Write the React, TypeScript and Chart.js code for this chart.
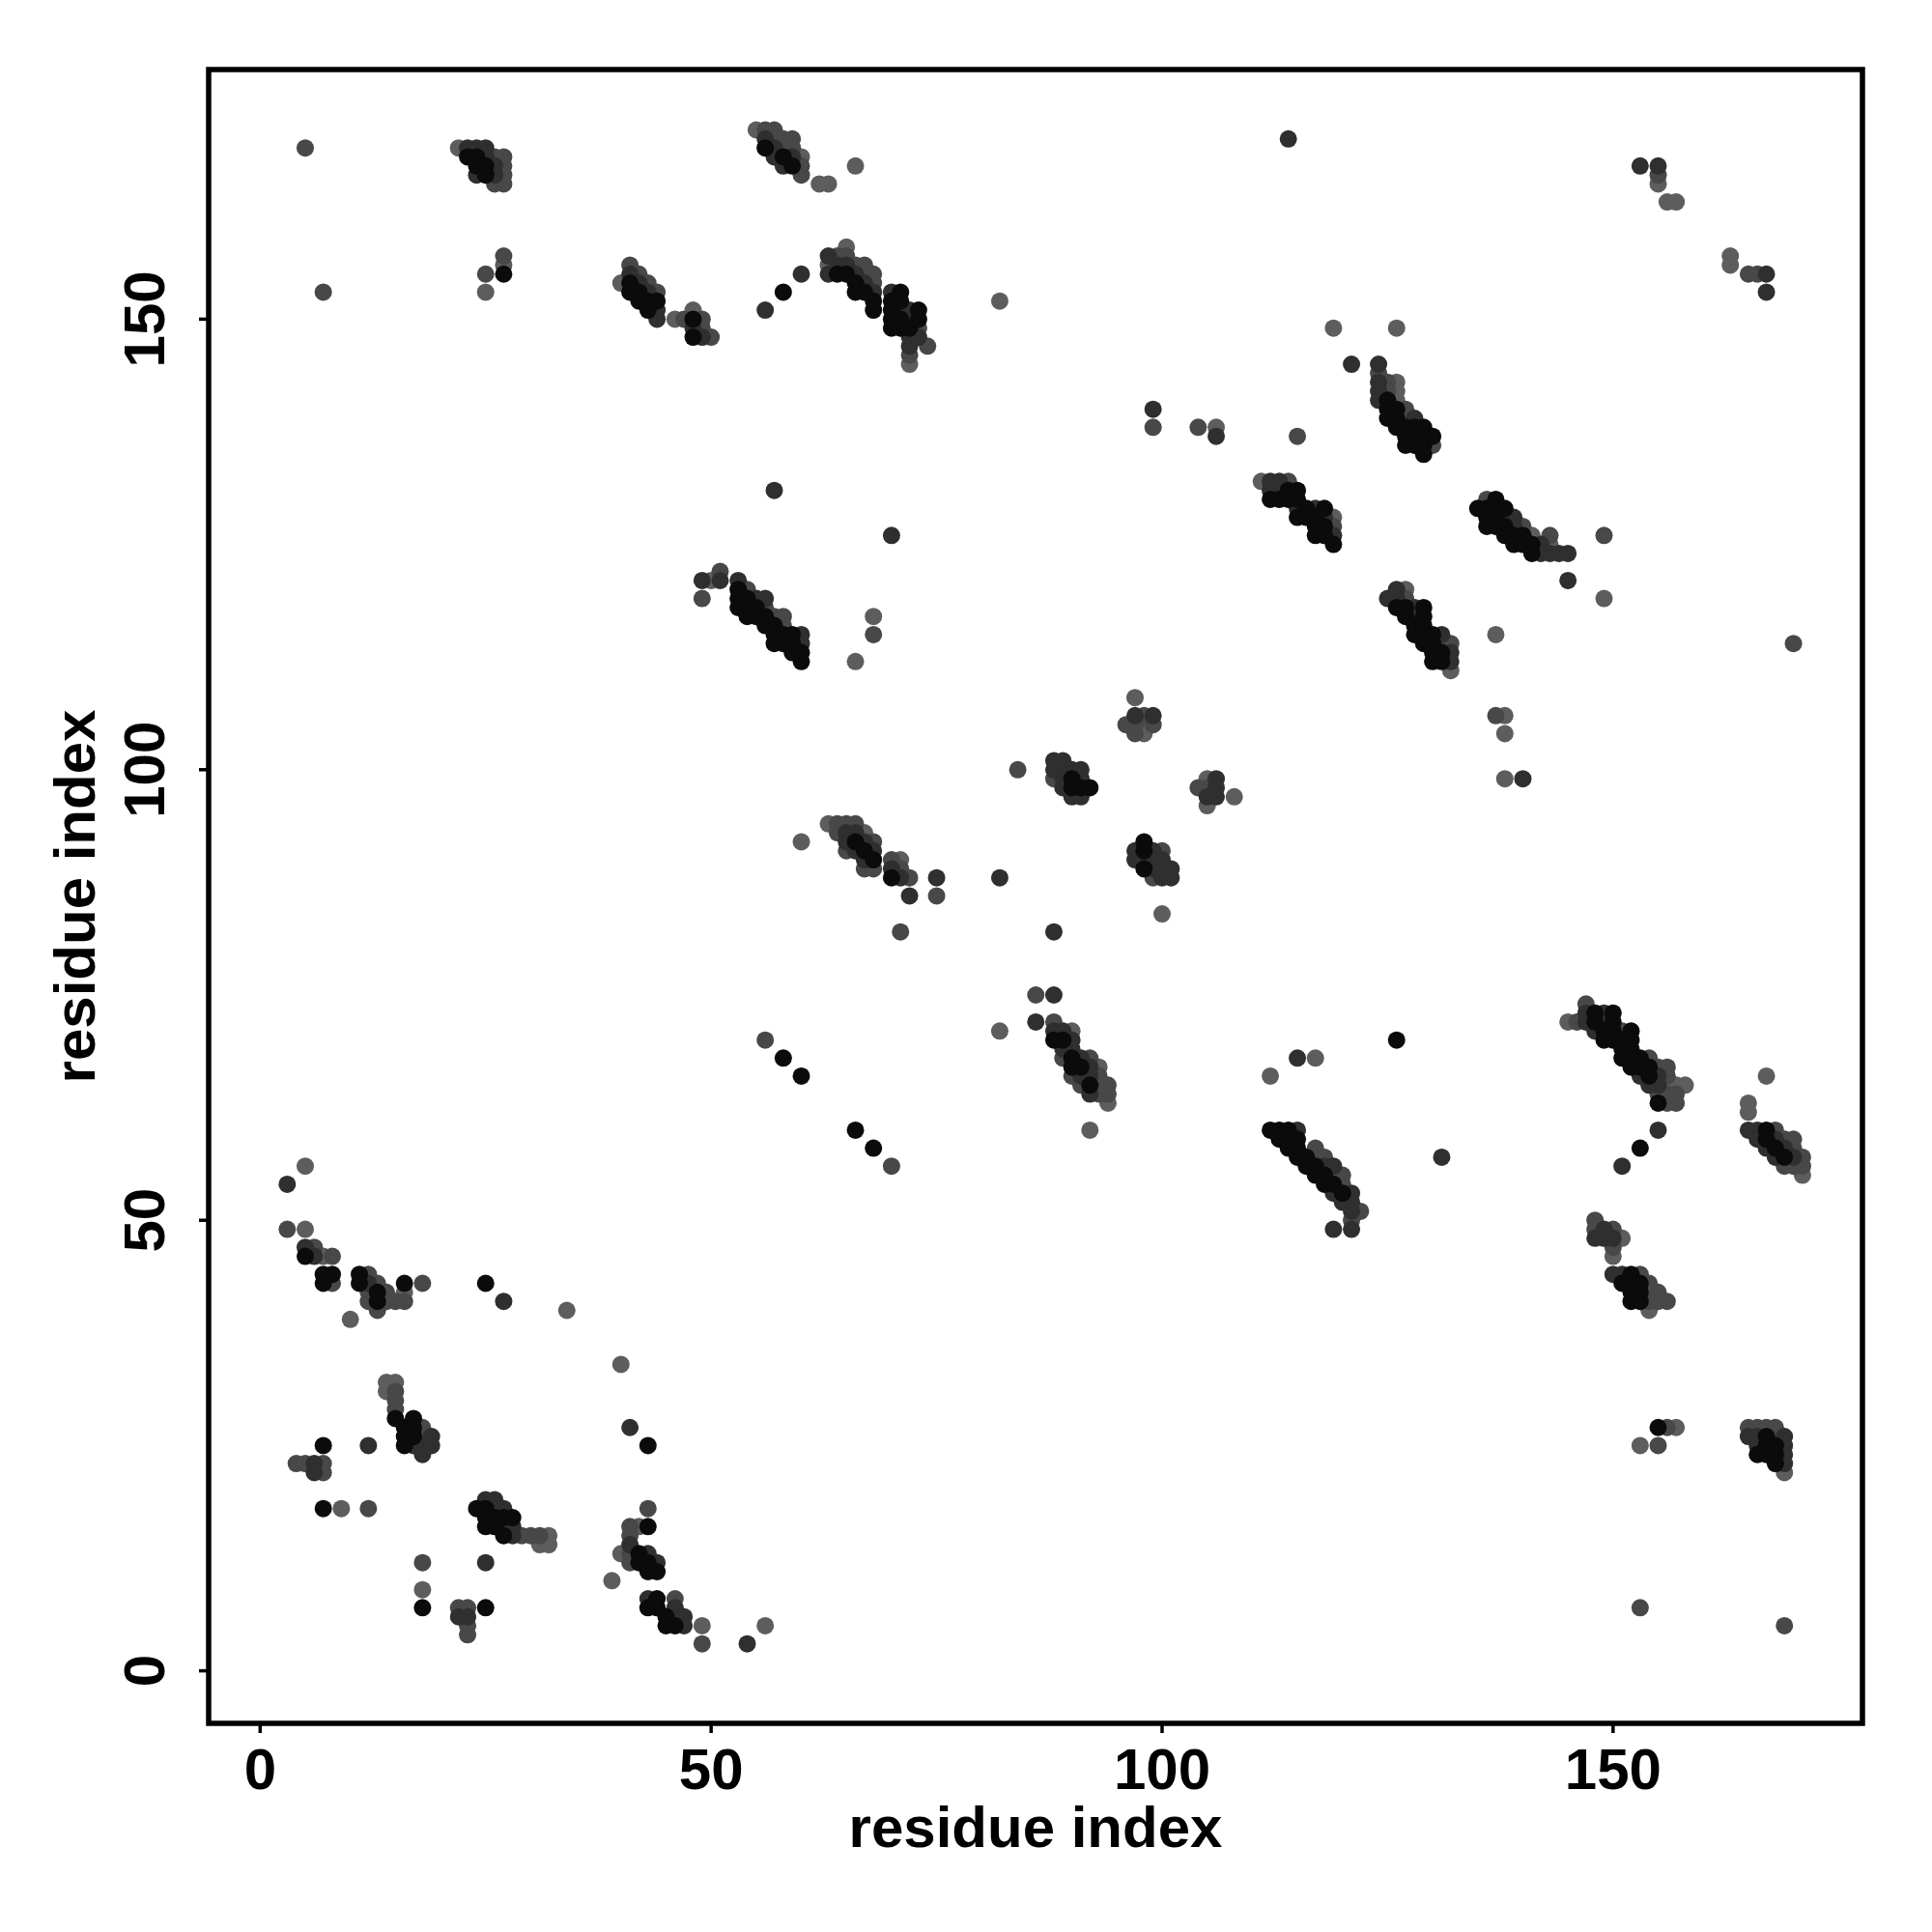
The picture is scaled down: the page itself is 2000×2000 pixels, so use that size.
import React, { useEffect, useRef } from 'react';
import { Chart, registerables } from 'chart.js';

Chart.register(...registerables);

type P = [number, number];

// contact points grouped by shade (probability level)
const blackPts: P[] = [
  [23,168],[24,168],[24,167],[25,167],[25,166],
  [27,155],
  [41,154],[41,153],[42,153],[42,152],[43,152],[43,151],[44,152],
  [48,150],[48,148],[58,153],
  [56,169],[58,168],[59,167],
  [64,155],[65,155],[66,154],[66,153],[67,153],[68,152],[68,151],[70,152],[70,151],[70,150],[70,149],[71,153],[71,152],[71,150],[71,149],[72,149],[73,151],[73,150],
  [112,130],[113,130],[114,131],[114,130],[115,131],[115,130],[115,128],[116,129],[116,128],[117,128],[117,127],[117,126],[118,129],[118,127],[118,126],[119,125],
  [125,141],[125,140],[125,139],[126,140],[126,139],[126,138],[127,138],[127,137],[127,136],[128,138],[128,137],[128,136],[129,138],[129,137],[129,136],[129,135],[130,137],
  [135,129],[136,129],[136,128],[136,127],[137,130],[137,129],[137,128],[137,127],[138,129],[138,127],[138,126],[139,126],[139,125],[140,126],[140,125],[141,125],[141,124],
  [126,118],[127,118],[127,117],[128,116],[128,115],[129,118],[129,117],[129,116],[129,115],[129,114],[130,115],[130,114],[130,113],[130,112],[131,113],[131,112],
  [53,120],[53,119],[53,118],[54,119],[54,118],[54,117],[55,118],[55,117],[56,117],[56,116],[57,116],[57,115],[57,114],[58,115],[58,114],[59,115],[59,114],[59,113],[60,113],[60,112],
  [90,99],[90,98],[91,98],[92,98],
  [98,92],[98,91],[98,89],
  [66,92],[67,91],[68,90],[70,88],
  [88,70],[89,70],[90,68],[90,67],[91,67],[92,65],
  [58,68],[60,66],[66,60],[68,58],
  [112,60],[113,60],[113,59],[114,60],[114,59],[114,58],[115,59],[115,58],[115,57],[116,57],[116,56],[117,56],[117,55],[118,55],[118,54],[119,54],[120,53],
  [126,70],
  [148,73],[148,72],[149,71],[149,70],[150,73],[150,72],[150,71],[150,70],[151,70],[151,69],[151,68],[152,71],[152,70],[152,69],[152,68],[152,67],[153,68],[153,67],[154,67],[154,66],[155,63],
  [153,58],
  [167,60],[167,59],[168,58],[169,57],
  [5,46],[7,44],[8,44],[7,43],[11,44],[11,43],[13,42],[13,41],[16,43],
  [25,43],
  [15,28],[16,27],[16,26],[16,25],[17,28],[17,27],[17,26],
  [7,25],[7,18],
  [24,18],[25,18],[25,17],[25,16],[26,17],[26,16],[27,17],[27,15],[28,17],
  [18,7],[25,7],[43,25],
  [43,16],[42,13],[42,12],[43,12],[43,11],[44,11],[44,8],[43,7],[44,7],[45,6],[45,5],[46,5],
  [151,43],[152,44],[152,43],[152,42],[152,41],[153,43],[153,42],[153,41],
  [155,27],
  [166,24],[167,26],[167,25],[167,24],[168,25],[168,24],[168,23],
];

const darkPts: P[] = [
  [23,169],[24,169],[25,169],[25,168],[26,167],[24,166],[26,166],
  [41,155],[42,154],[43,153],[44,151],[44,150],
  [48,149],[49,148],
  [56,151],[60,155],[57,131],[70,126],
  [56,170],[57,169],[57,168],[59,168],[58,167],
  [63,157],[63,155],[64,156],[65,156],[66,155],[67,154],[68,153],[70,153],[71,151],[72,151],[72,150],[72,148],[72,147],[73,148],
  [114,170],[99,140],[106,137],[121,145],
  [112,132],[112,131],[113,132],[115,129],[117,129],[118,128],[119,126],
  [124,145],[124,143],[124,142],[124,141],[128,139],
  [138,128],[139,128],[139,127],[142,125],[142,124],[143,124],[144,124],[145,124],
  [145,121],
  [125,119],[126,120],[126,119],[128,118],[131,115],[132,113],[132,112],
  [153,167],[155,167],[167,155],[167,153],[140,99],
  [49,121],[51,121],[53,121],[55,119],[56,119],[60,115],[60,114],
  [97,106],[99,106],
  [88,101],[88,100],[89,101],[89,100],[89,99],[89,98],[90,100],[90,97],[91,100],[91,99],[91,97],
  [106,99],[106,98],[105,97],[106,97],
  [97,91],[97,90],[98,90],[99,91],[99,90],[99,89],[100,90],[100,89],[100,88],[101,89],[101,88],
  [65,93],[65,92],[66,93],[66,91],[67,92],[67,90],[68,91],[70,89],[71,88],[72,86],[75,88],
  [82,88],[88,82],[88,75],[86,72],
  [88,71],[89,71],[89,69],[90,70],[90,69],[91,68],[91,66],[92,67],[92,66],[92,64],
  [115,68],
  [115,60],[118,56],[119,56],[119,53],[119,49],[120,52],[121,53],[121,52],[121,51],[121,49],
  [131,57],
  [147,73],[147,72],[148,71],[149,73],[153,66],[154,65],[155,66],[155,65],
  [155,60],[151,56],
  [165,60],[166,60],[166,59],[167,58],[168,59],[168,57],[169,58],[170,57],
  [3,54],[5,47],[6,46],[12,43],[27,41],[41,27],
  [17,25],[18,25],[18,24],[19,26],[19,25],
  [12,25],[6,23],[6,22],
  [25,19],[26,19],[27,18],[27,16],[28,16],[28,15],
  [25,12],[22,6],[23,6],
  [41,14],[43,13],[44,12],[43,8],[46,7],[46,6],[47,6],[47,5],[54,3],
  [148,48],[149,49],[149,48],[150,48],[150,44],[151,44],
  [165,26],[166,26],[166,25],[169,26],[169,25],[169,24],[169,23],
];

const midPts: P[] = [
  [5,169],[7,153],
  [26,168],[27,168],[27,167],[27,166],[26,165],[27,165],
  [27,157],[25,155],
  [41,156],[42,155],[43,154],[44,153],
  [47,150],[49,150],[49,149],[50,148],
  [56,171],[57,171],[57,170],[58,170],[59,170],[58,169],[59,169],[60,167],[60,166],
  [64,157],[65,157],[66,156],[67,156],[67,155],[68,155],[68,154],[73,149],[74,147],[72,146],
  [99,138],[104,138],[115,137],
  [113,131],[114,132],[119,127],
  [124,144],[125,143],[125,142],[127,140],[127,139],[130,136],
  [136,130],[140,127],[143,126],
  [149,126],[170,114],
  [127,119],[128,117],[131,114],[132,114],
  [155,166],[165,155],[166,155],[137,106],
  [49,119],[51,122],[54,120],[56,118],[57,117],[58,117],[58,116],
  [68,115],
  [96,105],[98,106],[97,105],[99,105],[97,104],
  [84,100],[88,99],
  [104,98],[105,98],
  [99,88],[100,91],
  [64,94],[64,93],[65,94],[65,91],[66,94],[67,89],[68,92],[68,89],[70,90],[71,89],[72,88],[75,86],
  [71,82],[86,75],
  [88,72],[89,68],[90,66],[91,65],[92,68],[93,66],[93,65],[93,64],[94,65],[94,64],
  [56,70],[70,56],
  [117,58],[117,57],[118,57],[119,55],[120,55],[120,54],[121,50],[122,51],
  [146,72],[147,74],[149,72],[151,71],[154,68],[155,67],[155,64],[156,67],[156,66],[156,64],[156,63],[157,64],[157,63],
  [168,60],[169,59],[169,56],[170,59],[170,58],[170,56],[171,57],[171,56],
  [3,49],[6,47],[8,46],[8,43],[12,44],[13,43],[12,42],[14,42],[12,41],[14,41],[15,41],[16,41],[13,40],[18,43],
  [15,31],[15,30],[15,29],[18,27],[18,26],
  [4,23],[5,23],[7,23],[7,22],[12,18],
  [26,18],[29,15],[30,15],[31,15],
  [18,12],[22,7],[23,7],[23,5],[23,4],
  [43,18],[41,16],[41,15],[41,13],[41,12],[46,8],[49,3],
  [153,7],[169,5],
  [148,50],[148,49],[150,49],[150,47],[153,44],[154,43],[154,42],[154,41],[155,42],[155,41],[156,41],
  [156,27],[155,25],
  [165,27],[166,27],[167,27],[168,27],[168,26],
];

const lightPts: P[] = [
  [22,169],[27,156],[25,153],[40,154],[46,150],[48,151],[82,152],
  [55,171],[60,168],[62,165],[63,165],[66,167],
  [65,158],[63,156],[72,145],
  [106,138],[119,149],[126,149],
  [111,132],[119,128],
  [126,143],[126,142],[126,141],
  [141,126],[143,125],
  [149,119],[137,115],
  [127,120],[132,111],
  [155,165],[156,163],[157,163],[163,157],[163,156],
  [138,106],[138,104],[138,99],
  [50,121],[68,117],[66,112],
  [97,108],[98,105],[98,104],[105,99],[105,96],[108,97],
  [100,84],
  [60,92],[63,94],[67,93],[71,90],
  [82,71],
  [90,71],[93,67],[94,63],[92,60],
  [112,66],[117,68],
  [145,72],[157,65],[158,65],[156,65],
  [167,66],[165,63],[165,62],
  [171,55],
  [5,56],[5,49],[7,46],[16,42],[10,39],
  [34,40],[40,34],
  [14,32],[14,31],[15,32],
  [9,18],
  [31,14],[32,15],[32,14],
  [18,9],
  [42,16],[40,13],[39,10],[49,5],[56,5],
  [150,46],[151,48],[154,40],
  [157,27],[153,25],
  [169,22],
];

const xTicks = [0, 50, 100, 150];
const yTicks = [0, 50, 100, 150];
const xTitle = 'residue index';
const yTitle = 'residue index';

const FONT = '"Liberation Sans", Arial, Helvetica, sans-serif';

const framePlugin = {
  id: 'frame',
  afterDraw(chart: any) {
    const { ctx, chartArea: a, scales } = chart;
    const xs = scales.x;
    const ys = scales.y;
    ctx.save();
    ctx.strokeStyle = '#000';
    ctx.fillStyle = '#000';
    ctx.lineWidth = 5.5;
    ctx.strokeRect(a.left, a.top, a.right - a.left, a.bottom - a.top);
    ctx.lineWidth = 3.5;
    ctx.font = `bold 60px ${FONT}`;
    ctx.textAlign = 'center';
    ctx.textBaseline = 'alphabetic';
    for (const t of xTicks) {
      const px = xs.getPixelForValue(t);
      ctx.beginPath();
      ctx.moveTo(px, a.bottom);
      ctx.lineTo(px, a.bottom + 10);
      ctx.stroke();
      ctx.fillText(String(t), px, 1852);
    }
    for (const t of yTicks) {
      const py = ys.getPixelForValue(t);
      ctx.beginPath();
      ctx.moveTo(a.left, py);
      ctx.lineTo(a.left - 10, py);
      ctx.stroke();
      ctx.save();
      ctx.translate(170, py);
      ctx.rotate(-Math.PI / 2);
      ctx.fillText(String(t), 0, 0);
      ctx.restore();
    }
    ctx.font = `bold 60px ${FONT}`;
    ctx.fillText(xTitle, (a.left + a.right) / 2, 1912);
    ctx.save();
    ctx.translate(98, (a.top + a.bottom) / 2);
    ctx.rotate(-Math.PI / 2);
    ctx.fillText(yTitle, 0, 0);
    ctx.restore();
    ctx.restore();
  },
};

function makeSet(pts: P[], color: string, order: number) {
  return {
    type: 'scatter' as const,
    data: pts.map(([x, y]) => ({ x, y })),
    pointRadius: 9,
    pointHoverRadius: 9,
    pointBackgroundColor: color,
    pointBorderWidth: 0,
    borderWidth: 0,
    showLine: false,
    order,
  };
}

export default function App() {
  const ref = useRef<HTMLCanvasElement | null>(null);
  useEffect(() => {
    if (!ref.current) return;
    const chart = new Chart(ref.current, {
      type: 'scatter',
      data: {
        datasets: [
          makeSet(blackPts, '#0b0b0b', 0),
          makeSet(darkPts, '#2f2f2f', 1),
          makeSet(midPts, '#484848', 2),
          makeSet(lightPts, '#5d5d5d', 3),
        ],
      },
      options: {
        responsive: false,
        devicePixelRatio: 1,
        animation: false,
        events: [],
        layout: { padding: { left: 216, right: 72, top: 72, bottom: 216 } },
        plugins: { legend: { display: false }, tooltip: { enabled: false } },
        scales: {
          x: { type: 'linear', min: -5.71, max: 177.65, display: false },
          y: { type: 'linear', min: -5.83, max: 177.7, display: false },
        },
      },
      plugins: [framePlugin],
    });
    return () => chart.destroy();
  }, []);
  return (
    <div style={{ position: 'absolute', left: 0, top: 0, width: 2000, height: 2000, background: '#fff' }}>
      <canvas ref={ref} width={2000} height={2000} style={{ width: 2000, height: 2000, display: 'block' }} />
    </div>
  );
}
